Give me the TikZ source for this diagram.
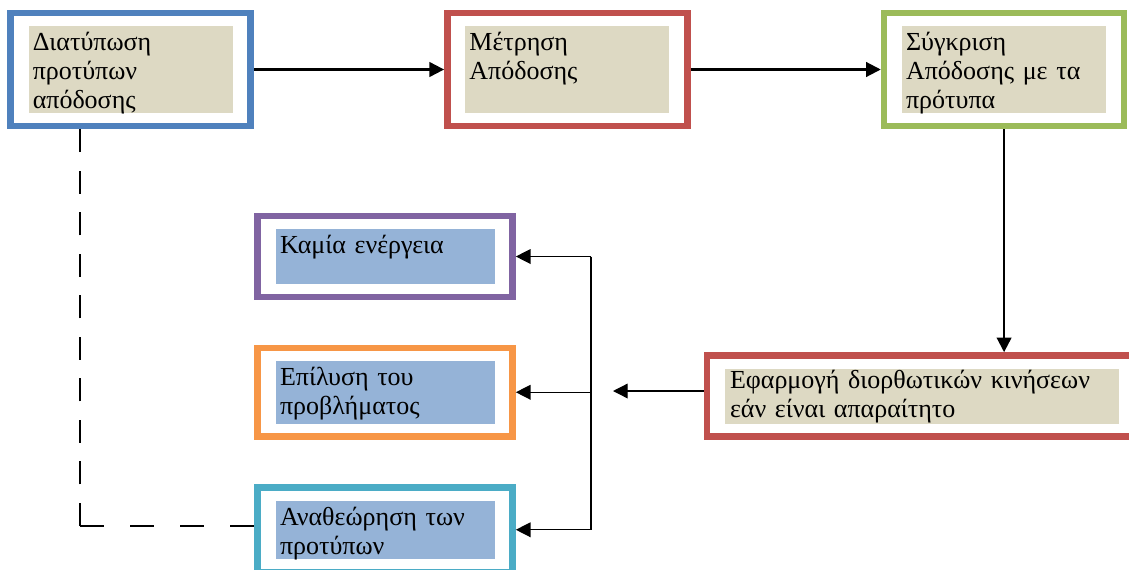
\documentclass[tikz,border=0pt]{standalone}
\usepackage{fontspec}
\setmainfont{Liberation Serif}
\usetikzlibrary{positioning, arrows.meta}
\definecolor{frameblue}{HTML}{4F81BD}
\definecolor{framered}{HTML}{C0504D}
\definecolor{framegreen}{HTML}{9BBB59}
\definecolor{framepurple}{HTML}{8064A2}
\definecolor{frameorange}{HTML}{F79646}
\definecolor{framecyan}{HTML}{4BACC6}
\definecolor{tanfill}{HTML}{DDD9C3}
\definecolor{bluefill}{HTML}{95B3D7}
\begin{document}
\begin{tikzpicture}[
x=0.75pt, y=-0.75pt,
>={Triangle[length=11pt, width=11pt]},
node distance=33.25pt and 142.5pt,
stage/.style 2 args={
draw=#1,
line width=5pt,
fill=white,
rectangle,
align=left,
inner ysep=9.75pt,
text height=18.5pt,
font=\fontsize{19.5pt}{21.75pt}\selectfont,
text=black,
path picture={\fill[#2] ([shift={(13.5pt,-9.75pt)}]path picture bounding box.north west) rectangle ([shift={(-13.5pt,9.75pt)}]path picture bounding box.south east);}
},
topbox/.style={text width=147pt, inner xsep=16.5pt, text depth=46.75pt},
sidebox/.style={text width=157.5pt, inner xsep=16.875pt},
flow/.style={->, line width=1.6pt},
branch/.style={line width=1pt},
loopline/.style={line width=1.2pt, dash pattern=on 17.25pt off 13.9pt}
]
\useasboundingbox (0,0) rectangle (1129,569);
\clip (0,0) rectangle (1129,569);
\node[stage={frameblue}{tanfill}, topbox] (form) at (130.75,69.5) {Διατύπωση\\προτύπων\\απόδοσης};
\node[stage={framered}{tanfill}, topbox, right=of form] (measure) {Μέτρηση\\Απόδοσης};
\node[stage={framegreen}{tanfill}, topbox, right=of measure] (compare) {Σύγκριση\\Απόδοσης με τα\\πρότυπα};
\node[stage={framered}{tanfill}, text width=288pt, inner xsep=17.25pt, text height=15pt, text depth=26.25pt] (correct) at (922,396) {Εφαρμογή διορθωτικών κινήσεων\\εάν είναι απαραίτητο};
\node[stage={framepurple}{bluefill}, sidebox, text depth=22.75pt] (none) at (385,256.5) {Καμία ενέργεια};
\node[stage={frameorange}{bluefill}, sidebox, text depth=28.375pt, below=of none] (solve) {Επίλυση του\\προβλήματος};
\node[stage={framecyan}{bluefill}, sidebox, text depth=25.375pt, below=of solve] (review) {Αναθεώρηση των\\προτύπων};
\coordinate (gap) at (613,391);
\coordinate (bus) at (591,391);
\coordinate (loop) at (80,526);
\foreach \i/\j in {form/measure, measure/compare}
\draw[flow] (\i) -- (\j);
\draw[flow] (compare.south) -- (compare.south |- correct.north);
\draw[->, branch] (correct.west |- gap) -- (gap);
\draw[branch] (bus |- none.east) -- (bus |- review.east);
\foreach \target in {none, solve, review}
\draw[->, branch] (bus |- \target.east) -- (\target.east);
\draw[loopline] (loop) -- (form.south -| loop);
\draw[loopline, dash pattern=on 18pt off 19.5pt] (loop) -- (review.west |- loop);
\end{tikzpicture}
\end{document}
